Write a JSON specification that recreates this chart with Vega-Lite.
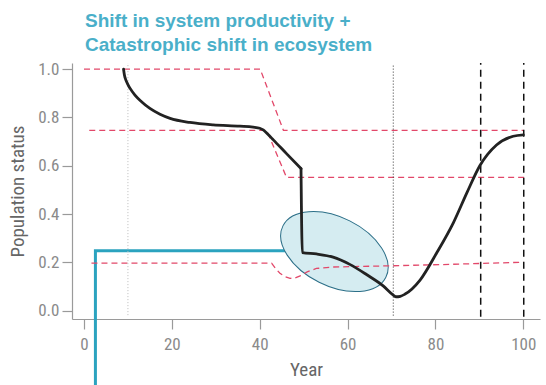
{
  "$schema": "https://vega.github.io/schema/vega-lite/v6.json",
  "width": 468,
  "height": 256,
  "autosize": "none",
  "padding": {"left": 72, "top": 63, "right": 6, "bottom": 66},
  "background": "white",
  "title": {
    "text": ["Shift in system productivity +", "Catastrophic shift in ecosystem"],
    "font": "Liberation Sans",
    "fontWeight": "bold",
    "fontSize": 19,
    "lineHeight": 24,
    "color": "#4AAFC9",
    "anchor": "start",
    "frame": "group",
    "dx": 13,
    "offset": 5
  },
  "config": {
    "view": {"stroke": null},
    "axis": {
      "grid": false,
      "domainColor": "#9a9a9a",
      "tickColor": "#9a9a9a",
      "domainWidth": 1.2,
      "tickWidth": 1.2,
      "tickSize": 10,
      "labelColor": "#8a8a8a",
      "titleColor": "#666666",
      "labelFont": "Liberation Sans Narrow, Roboto Condensed, DejaVu Sans Condensed, Liberation Sans",
      "titleFont": "Liberation Sans Narrow, Roboto Condensed, DejaVu Sans Condensed, Liberation Sans",
      "labelFontSize": 17,
      "titleFontSize": 19,
      "titleFontWeight": "normal"
    }
  },
  "layer": [
    {
      "data": {"values": [
        {"x": 2.6, "y": -0.34, "i": 0},
        {"x": 2.6, "y": 0.248, "i": 1},
        {"x": 50, "y": 0.248, "i": 2}
      ]},
      "mark": {"type": "line", "color": "#2BA3BF", "strokeWidth": 3, "clip": false},
      "encoding": {
        "x": {"field": "x", "type": "quantitative", "scale": {"domain": [-2.73, 103.8], "nice": false, "zero": false},
              "axis": {"title": "Year", "values": [0, 20, 40, 60, 80, 100], "labelPadding": 7, "titlePadding": 8}},
        "y": {"field": "y", "type": "quantitative", "scale": {"domain": [-0.034, 1.025], "nice": false, "zero": false},
              "axis": {"title": "Population status", "values": [0, 0.2, 0.4, 0.6, 0.8, 1.0], "format": ".1f", "labelPadding": 3, "titlePadding": 10}},
        "order": {"field": "i", "type": "quantitative"}
      }
    },
    {
      "data": {"values": [{"x": 57.0, "y": 0.245}]},
      "mark": {
        "type": "point",
        "shape": "M 1 0 C 1 0.3297 0.5523 0.597 0 0.597 C -0.5523 0.597 -1 0.3297 -1 0 C -1 -0.3297 -0.5523 -0.597 0 -0.597 C 0.5523 -0.597 1 -0.3297 1 0 Z",
        "size": 13225,
        "angle": 26.5,
        "filled": true,
        "fill": "#D5ECF1",
        "stroke": "#2C6F88",
        "strokeWidth": 1,
        "opacity": 1
      },
      "encoding": {
        "x": {"field": "x", "type": "quantitative"},
        "y": {"field": "y", "type": "quantitative"}
      }
    },
    {
      "data": {"values": [
        {"s": "a", "x": 0, "y": 1.0},
        {"s": "a", "x": 40.1, "y": 1.0},
        {"s": "a", "x": 45.4, "y": 0.746},
        {"s": "a", "x": 100, "y": 0.746},
        {"s": "b", "x": 1.2, "y": 0.746},
        {"s": "b", "x": 41.6, "y": 0.746},
        {"s": "b", "x": 46.1, "y": 0.552},
        {"s": "b", "x": 100.8, "y": 0.552},
        {"s": "c", "x": 1.7, "y": 0.197},
        {"s": "c", "x": 42.7, "y": 0.197},
        {"s": "c", "x": 43.6, "y": 0.175},
        {"s": "c", "x": 44.6, "y": 0.155},
        {"s": "c", "x": 45.8, "y": 0.141},
        {"s": "c", "x": 46.9, "y": 0.134},
        {"s": "c", "x": 48.1, "y": 0.136},
        {"s": "c", "x": 49.2, "y": 0.144},
        {"s": "c", "x": 50.8, "y": 0.161},
        {"s": "c", "x": 52.9, "y": 0.175},
        {"s": "c", "x": 56.7, "y": 0.181},
        {"s": "c", "x": 69.7, "y": 0.186},
        {"s": "c", "x": 83.3, "y": 0.192},
        {"s": "c", "x": 100, "y": 0.201}
      ]},
      "mark": {"type": "line", "color": "#E2486A", "strokeWidth": 1.3, "strokeDash": [6, 4]},
      "encoding": {
        "x": {"field": "x", "type": "quantitative"},
        "y": {"field": "y", "type": "quantitative"},
        "detail": {"field": "s", "type": "nominal"}
      }
    },
    {
      "data": {"values": [{"x": 10, "y0": -0.018, "y1": 1.025}]},
      "mark": {"type": "rule", "color": "#BBBBBB", "strokeWidth": 1, "strokeDash": [1, 2]},
      "encoding": {
        "x": {"field": "x", "type": "quantitative"},
        "y": {"field": "y0", "type": "quantitative"},
        "y2": {"field": "y1"}
      }
    },
    {
      "data": {"values": [{"x": 70.4, "y0": -0.02, "y1": 1.02}]},
      "mark": {"type": "rule", "color": "#333333", "strokeWidth": 1, "strokeDash": [1, 2]},
      "encoding": {
        "x": {"field": "x", "type": "quantitative"},
        "y": {"field": "y0", "type": "quantitative"},
        "y2": {"field": "y1"}
      }
    },
    {
      "data": {"values": [{"x": 90.3, "y0": -0.025, "y1": 1.025}, {"x": 100.1, "y0": -0.025, "y1": 1.025}]},
      "mark": {"type": "rule", "color": "#111111", "strokeWidth": 1.5, "strokeDash": [7, 5]},
      "encoding": {
        "x": {"field": "x", "type": "quantitative"},
        "y": {"field": "y0", "type": "quantitative"},
        "y2": {"field": "y1"}
      }
    },
    {
      "data": {"values": [
        {"seg": 1, "x": 9.0, "y": 1.0},
        {"seg": 1, "x": 9.2, "y": 0.975},
        {"seg": 1, "x": 9.7, "y": 0.947},
        {"seg": 1, "x": 10.5, "y": 0.920},
        {"seg": 1, "x": 11.6, "y": 0.892},
        {"seg": 1, "x": 13.1, "y": 0.865},
        {"seg": 1, "x": 15.0, "y": 0.837},
        {"seg": 1, "x": 17.3, "y": 0.813},
        {"seg": 1, "x": 19.6, "y": 0.796},
        {"seg": 1, "x": 24.1, "y": 0.779},
        {"seg": 1, "x": 29.4, "y": 0.769},
        {"seg": 1, "x": 35.5, "y": 0.764},
        {"seg": 1, "x": 38.5, "y": 0.760},
        {"seg": 1, "x": 40.0, "y": 0.755},
        {"seg": 1, "x": 40.8, "y": 0.748},
        {"seg": 1, "x": 41.8, "y": 0.731},
        {"seg": 1, "x": 43.1, "y": 0.707},
        {"seg": 1, "x": 46.1, "y": 0.650},
        {"seg": 1, "x": 49.4, "y": 0.588},
        {"seg": 2, "x": 49.4, "y": 0.588},
        {"seg": 2, "x": 49.7, "y": 0.241},
        {"seg": 2, "x": 52.9, "y": 0.235},
        {"seg": 2, "x": 56.7, "y": 0.222},
        {"seg": 2, "x": 60.5, "y": 0.192},
        {"seg": 2, "x": 64.3, "y": 0.150},
        {"seg": 2, "x": 68.1, "y": 0.103},
        {"seg": 2, "x": 70.2, "y": 0.068},
        {"seg": 2, "x": 71.0, "y": 0.058},
        {"seg": 2, "x": 72.0, "y": 0.060},
        {"seg": 2, "x": 73.0, "y": 0.068},
        {"seg": 2, "x": 76.5, "y": 0.127},
        {"seg": 2, "x": 80.3, "y": 0.240},
        {"seg": 2, "x": 84.1, "y": 0.365},
        {"seg": 2, "x": 87.2, "y": 0.490},
        {"seg": 2, "x": 90.1, "y": 0.600},
        {"seg": 2, "x": 93.9, "y": 0.686},
        {"seg": 2, "x": 97.7, "y": 0.722},
        {"seg": 2, "x": 100, "y": 0.728}
      ]},
      "mark": {"type": "line", "color": "#222222", "strokeWidth": 2.8, "interpolate": "monotone", "strokeCap": "round", "strokeJoin": "round"},
      "encoding": {
        "x": {"field": "x", "type": "quantitative"},
        "y": {"field": "y", "type": "quantitative"},
        "detail": {"field": "seg", "type": "nominal"}
      }
    }
  ]
}
